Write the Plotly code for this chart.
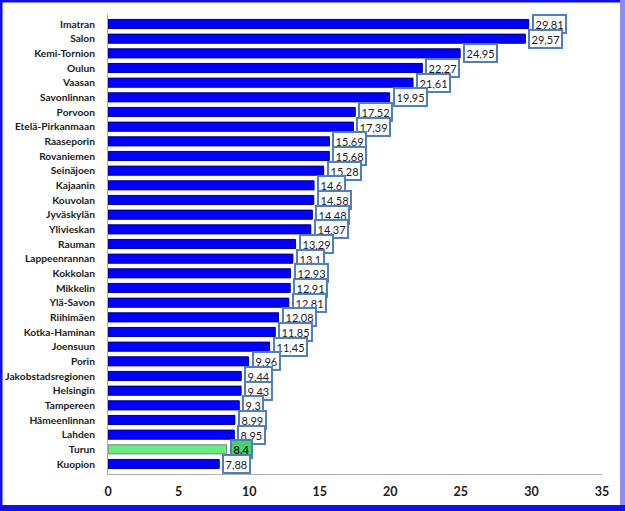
import plotly.graph_objects as go

categories = ["Imatran", "Salon", "Kemi-Tornion", "Oulun", "Vaasan", "Savonlinnan", "Porvoon",
              "Etelä-Pirkanmaan", "Raaseporin", "Rovaniemen", "Seinäjoen", "Kajaanin", "Kouvolan",
              "Jyväskylän", "Ylivieskan", "Rauman", "Lappeenrannan", "Kokkolan", "Mikkelin",
              "Ylä-Savon", "Riihimäen", "Kotka-Haminan", "Joensuun", "Porin", "Jakobstadsregionen",
              "Helsingin", "Tampereen", "Hämeenlinnan", "Lahden", "Turun", "Kuopion"]
values = [29.81, 29.57, 24.95, 22.27, 21.61, 19.95, 17.52, 17.39, 15.69, 15.68, 15.28, 14.6,
          14.58, 14.48, 14.37, 13.29, 13.1, 12.93, 12.91, 12.81, 12.08, 11.85, 11.45, 9.96,
          9.44, 9.43, 9.3, 8.99, 8.95, 8.4, 7.88]
highlight = "Turun"
x_ticks = [0, 5, 10, 15, 20, 25, 30, 35]

W, H = 625, 511
L, R, T, B = 108, 23, 14, 37
pw, ph = W - L - R, H - T - B


def px(p):
    return (p - L) / pw


def py(p):
    return (H - B - p) / ph


fill = ["#66ee80" if c == highlight else "#0000ff" for c in categories]
edge = ["#7f7f7f" if c == highlight else "#000080" for c in categories]

fig = go.Figure(go.Bar(
    x=values, y=categories, orientation="h",
    marker=dict(color=fill, line=dict(color=edge, width=1)),
    hoverinfo="skip",
))

annotations = []
for c, v in zip(categories, values):
    hl = c == highlight
    annotations.append(dict(
        x=v, y=c, xref="x", yref="y", text=("<b>%s</b>" if hl else "%s") % f"{v:g}".replace(".", ","),
        showarrow=False, xanchor="left", yanchor="middle", xshift=3,
        bgcolor="#44d466" if hl else "white", bordercolor="#4f7fbf", borderwidth=2, borderpad=1.5,
        font=dict(family="Lato", size=11, color="#1a1a1a"),
    ))

shapes = [
    dict(type="rect", xref="paper", yref="paper", x0=px(0), x1=px(2.5), y0=py(H), y1=py(0),
         fillcolor="#1010e8", line=dict(width=0), layer="above"),
    dict(type="rect", xref="paper", yref="paper", x0=px(0), x1=px(W), y0=py(2.5), y1=py(0),
         fillcolor="#1010e8", line=dict(width=0), layer="above"),
    dict(type="rect", xref="paper", yref="paper", x0=px(620), x1=px(W), y0=py(H), y1=py(0),
         fillcolor="#8c8cf2", line=dict(width=0), layer="above"),
    dict(type="rect", xref="paper", yref="paper", x0=px(0), x1=px(W), y0=py(H), y1=py(505),
         fillcolor="#1010e8", line=dict(width=0), layer="above"),
]

fig.update_layout(
    width=W, height=H, margin=dict(l=L, r=R, t=T, b=B, autoexpand=False),
    paper_bgcolor="white", plot_bgcolor="white",
    showlegend=False, bargap=0.38,
    annotations=annotations, shapes=shapes,
    xaxis=dict(range=[0, 35], tickvals=x_ticks, ticktext=[f"<b>{t}</b>" for t in x_ticks],
               showgrid=False, zeroline=False, showline=True, linecolor="#b0b0b0", linewidth=1,
               ticks="", ticklabelstandoff=6, automargin=False,
               tickfont=dict(family="Lato", size=12.5, color="#1a1a1a")),
    yaxis=dict(autorange="reversed", showgrid=False, zeroline=False, showline=True,
               linecolor="#b0b0b0", linewidth=1, ticks="", ticklabelstandoff=10, automargin=False,
               tickvals=categories, ticktext=[f"<b>{c}</b>" for c in categories],
               tickfont=dict(family="Lato", size=10.2, color="#1a1a1a")),
)

fig.write_html("out.html", config={"displayModeBar": False},
               post_script="document.body.style.margin='0';document.body.style.overflow='hidden';")
